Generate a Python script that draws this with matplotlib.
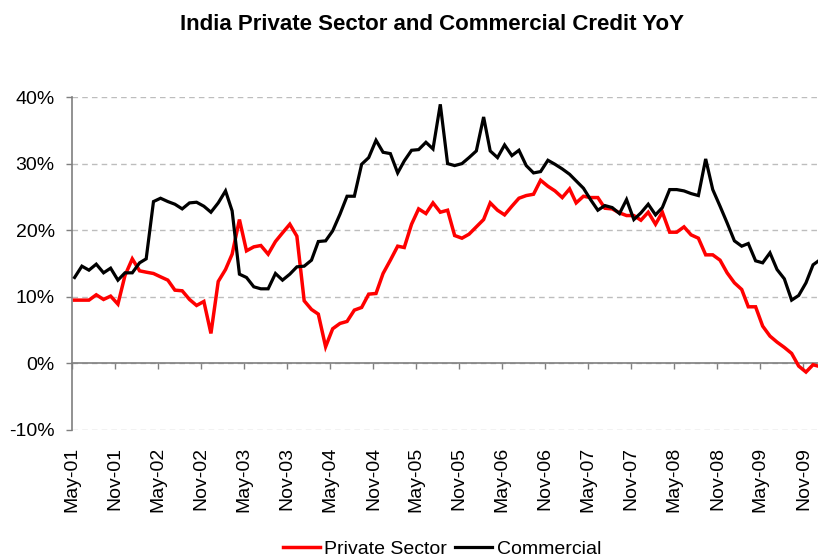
import matplotlib
matplotlib.use("Agg")
import matplotlib.pyplot as plt
import matplotlib.dates as mdates
import pandas as pd

plt.rcParams["font.family"] = ["Liberation Sans", "DejaVu Sans"]
plt.rcParams["axes.unicode_minus"] = False

# Monthly observations, May 2001 - Jan 2010 (reported mid-month)
months = pd.date_range("2001-05-01", "2010-01-01", freq="MS") + pd.Timedelta(days=11)

# Year-on-year credit growth, %
private_sector = [
    9.5, 9.5, 9.5, 10.3, 9.6, 10.1, 8.9, 13.2, 15.7, 13.9,
    13.7, 13.5, 13.0, 12.5, 11.0, 10.9, 9.6, 8.7, 9.3, 4.5,
    12.3, 14.1, 16.4, 21.6, 16.9, 17.5, 17.7, 16.4, 18.3, 19.6,
    20.9, 19.1, 9.4, 8.1, 7.4, 2.5, 5.2, 6.0, 6.3, 8.0,
    8.4, 10.4, 10.5, 13.5, 15.5, 17.6, 17.4, 20.9, 23.2, 22.5,
    24.1, 22.7, 23.0, 19.2, 18.8, 19.4, 20.5, 21.6, 24.1, 23.0,
    22.3, 23.6, 24.8, 25.2, 25.4, 27.5, 26.6, 25.9, 24.9, 26.2,
    24.1, 25.1, 24.9, 24.9, 23.3, 23.2, 22.6, 22.2, 22.2, 21.5,
    22.7, 20.9, 22.7, 19.7, 19.7, 20.5, 19.3, 18.8, 16.3, 16.3,
    15.5, 13.6, 12.1, 11.1, 8.5, 8.5, 5.6, 4.1, 3.2, 2.4,
    1.5, -0.4, -1.3, -0.2, -0.5,
]
commercial = [
    12.9, 14.6, 14.0, 14.9, 13.6, 14.3, 12.5, 13.6, 13.6, 15.1,
    15.7, 24.3, 24.8, 24.3, 23.9, 23.2, 24.1, 24.2, 23.6, 22.7,
    24.1, 25.9, 22.9, 13.4, 12.9, 11.5, 11.2, 11.2, 13.5, 12.5,
    13.4, 14.5, 14.6, 15.5, 18.3, 18.4, 19.9, 22.4, 25.1, 25.1,
    29.9, 30.9, 33.5, 31.7, 31.5, 28.6, 30.4, 32.0, 32.1, 33.2,
    32.2, 38.9, 30.0, 29.7, 30.0, 30.9, 31.9, 37.0, 31.9, 30.9,
    32.8, 31.2, 32.0, 29.7, 28.6, 28.8, 30.5, 29.9, 29.2, 28.4,
    27.4, 26.3, 24.6, 23.0, 23.7, 23.4, 22.5, 24.6, 21.6, 22.6,
    23.9, 22.3, 23.4, 26.1, 26.1, 25.9, 25.5, 25.2, 30.7, 26.1,
    23.6, 21.1, 18.4, 17.6, 18.0, 15.4, 15.1, 16.6, 14.1, 12.7,
    9.5, 10.2, 12.1, 14.8, 15.6,
]
y_ticks = [-10, 0, 10, 20, 30, 40]

W, H = 818, 560
fig = plt.figure(figsize=(W / 100, H / 100), dpi=100)
ax = fig.add_axes([72 / W, 130 / H, 746 / W, 333 / H])

ax.plot(months, private_sector, color="#FF0000", lw=2.5, label="Private Sector",
        solid_joinstyle="miter", zorder=3)
ax.plot(months, commercial, color="#000000", lw=2.3, label="Commercial",
        solid_joinstyle="miter", zorder=4)

ax.set_xlim(pd.Timestamp("2001-05-01"), pd.Timestamp("2010-01-02"))
ax.set_ylim(-10, 40)
ax.set_yticks(y_ticks)
ax.set_yticklabels([f"{v}%" for v in y_ticks])
ax.yaxis.grid(True, color="#BDBDBD", lw=1.0, linestyle=(0, (4.0, 3.0)))
ax.set_axisbelow(True)

spine_col = "#7F7F7F"
for side in ("top", "right"):
    ax.spines[side].set_visible(False)
ax.spines["left"].set_color(spine_col)
ax.spines["left"].set_linewidth(1.2)
ax.spines["bottom"].set_position(("data", 0))
ax.spines["bottom"].set_color(spine_col)
ax.spines["bottom"].set_linewidth(1.2)

ax.tick_params(axis="y", direction="out", length=4, width=1.0, color=spine_col,
               labelsize=14, pad=8.5)

tick_locator = mdates.MonthLocator(bymonth=(5, 11), bymonthday=1)
ax.xaxis.set_major_locator(tick_locator)
ax.tick_params(axis="x", direction="out", length=4.5, width=1.0, color=spine_col,
               labelbottom=False)

# Date labels sit along the bottom edge of the plot, below -10%
sec = ax.secondary_xaxis(0)
sec.xaxis.set_major_locator(mdates.MonthLocator(bymonth=(5, 11), bymonthday=1))
sec.xaxis.set_major_formatter(mdates.DateFormatter("%b-%y"))
sec.tick_params(axis="x", length=0, labelsize=14, pad=12, labelrotation=90)
sec.spines["bottom"].set_visible(False)

fig.text(432 / W, 1 - 30 / H, "India Private Sector and Commercial Credit YoY",
         ha="center", va="baseline", fontsize=16, fontweight="bold")

fig.legend(loc="center", bbox_to_anchor=(442 / W, 1 - 549 / H), ncol=2,
           frameon=False, fontsize=14, handlelength=1.9, handletextpad=0.25,
           columnspacing=0.4, borderaxespad=0, borderpad=0)

fig.savefig("out.png", dpi=100)
